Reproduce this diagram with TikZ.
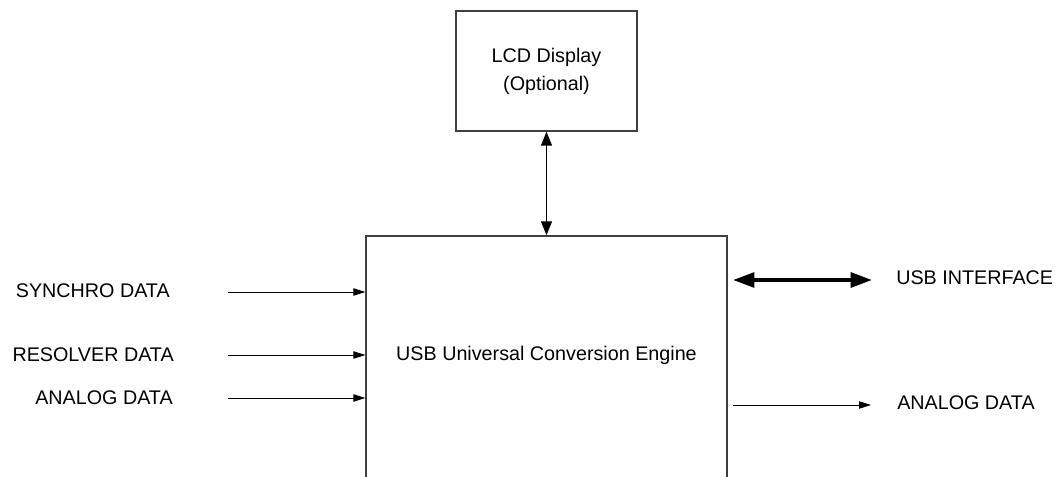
\documentclass[tikz,border=0pt]{standalone}
\usepackage{fontspec}
\setmainfont{Liberation Sans}
\usetikzlibrary{arrows.meta}
\begin{document}
\begin{tikzpicture}[x=0.75pt,y=-0.75pt,
  blockbox/.style={draw=black!75,line width=0.9pt,inner sep=0pt},
  lbl/.style={inner sep=0pt,font=\fontsize{14.8}{18}\selectfont},
  thinarrow/.style={line width=0.6pt,-{Triangle[length=9pt,width=5.5pt]}},
  vlink/.style={line width=1.4pt,{Triangle[length=10.5pt,width=8pt]}-{Triangle[length=10.5pt,width=8pt]}},
  buslink/.style={line width=2.8pt,{Triangle[length=16pt,width=11pt]}-{Triangle[length=16pt,width=11pt]}}]
  \useasboundingbox (0,0) rectangle (1056,477);
  \clip (0,0) rectangle (1056,477);

  % blocks
  \node[blockbox,minimum width=181*0.75pt,minimum height=120*0.75pt,align=center,
        font=\fontsize{14.8}{21}\selectfont] (lcd) at (546.5,71) {LCD Display\\(Optional)};
  \node[blockbox,minimum width=361*0.75pt,minimum height=280*0.75pt] (engine) at (546.5,376) {};
  \node[lbl] (enginetext) at (546.5,355) {USB Universal Conversion Engine};

  % display link
  \draw[vlink] (lcd.south) -- (lcd.south |- engine.north);

  % inputs
  \node[lbl,anchor=east] (syn) at (170,291) {SYNCHRO DATA};
  \node[lbl,anchor=east] (res) at (174,355) {RESOLVER DATA};
  \node[lbl,anchor=east] (ana) at (173,398) {ANALOG DATA};
  \coordinate (s1) at (228,292);
  \coordinate (s2) at (228,355);
  \coordinate (s3) at (228,398);
  \draw[thinarrow] (s1) -- (s1 -| engine.west);
  \draw[thinarrow] (s2) -- (s2 -| engine.west);
  \draw[thinarrow] (s3) -- (s3 -| engine.west);

  % outputs
  \node[lbl,anchor=west] (usb) at (896,278) {USB INTERFACE};
  \node[lbl,anchor=west] (anaout) at (897,403) {ANALOG DATA};
  \coordinate (u1) at (733,280);
  \coordinate (u2) at (872,280);
  \draw[buslink] (u1) -- (u2);
  \coordinate (o1) at (733,405);
  \coordinate (o2) at (871,405);
  \draw[thinarrow] (o1) -- (o2);
\end{tikzpicture}
\end{document}
